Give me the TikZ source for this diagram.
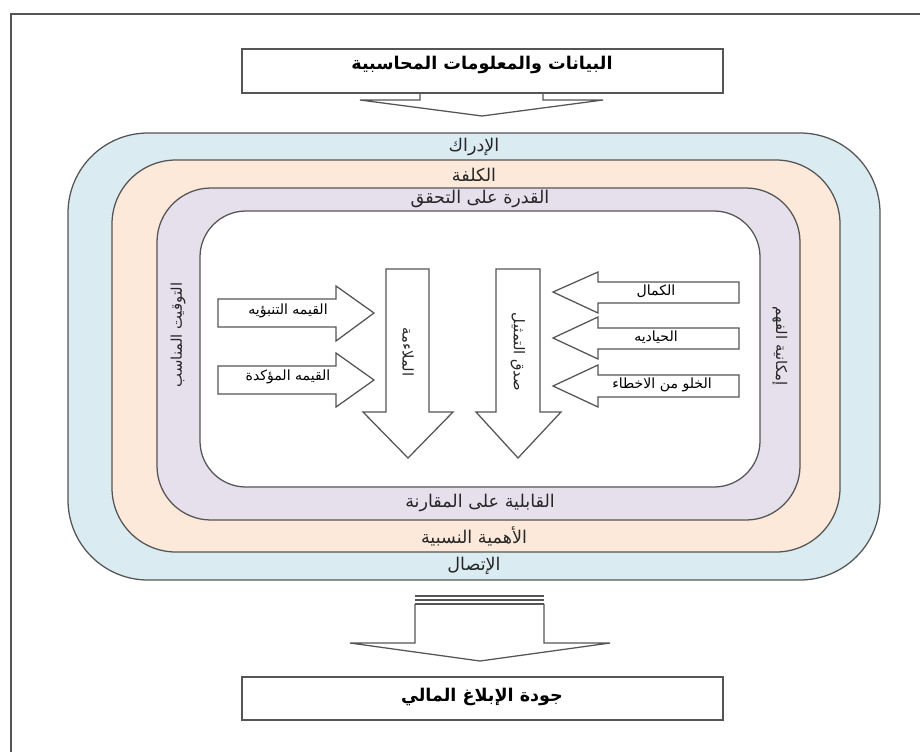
\documentclass[tikz,border=0pt]{standalone}
\usepackage{fontspec}
\usepackage{xcolor}
\newfontfamily\arabicfont[Script=Arabic]{DejaVu Sans}
\TeXXeTstate=1
\newcommand{\artext}[1]{{\arabicfont\beginR #1\endR}}
\definecolor{ringblue}{RGB}{218,236,242}
\definecolor{ringorange}{RGB}{253,233,217}
\definecolor{ringpurple}{RGB}{229,224,236}
\definecolor{edge}{RGB}{85,85,85}
\tikzset{
  ring/.style={draw=edge, line width=0.9pt},
  blockarrow/.style={draw=edge, fill=white, line width=0.9pt, line join=miter},
  titlebox/.style={draw=edge, fill=white, line width=0.9pt, inner sep=0pt},
  titletext/.style={font=\fontsize{12.5}{14}\selectfont\bfseries, inner sep=1pt},
  ringlabel/.style={font=\fontsize{12.5}{14}\selectfont, text=black!85, inner sep=1pt},
  sidelabel/.style={font=\fontsize{10.5}{12}\selectfont, text=black!85, inner sep=1pt},
  arrowlabel/.style={font=\fontsize{10}{12}\selectfont, inner sep=1pt},
}

\begin{document}
\begin{tikzpicture}[x=0.025cm, y=-0.025cm]
  \useasboundingbox (0,0) rectangle (920,752);
  % page frame, runs off the right and bottom edge
  \draw[edge, line width=0.8pt] (920,14) -- (11,14) -- (11,752);
  % source box with its arrow
  \draw[blockarrow] (420,80) -- (420,100) -- (360,100) -- (482,116) -- (603,100) -- (543,100) -- (543,80);
  \node[titlebox, minimum width=12.025cm, minimum height=1.1cm] (srcbox) at (482.5,71) {};
  \node[titletext] (srctext) at (482,65) {\artext{البيانات والمعلومات المحاسبية}};
  % nested rings
  \draw[ring, fill=ringblue, rounded corners=2cm] (68,133) rectangle (880,580);
  \draw[ring, fill=ringorange, rounded corners=1.6cm] (112,160) rectangle (840,552);
  \draw[ring, fill=ringpurple, rounded corners=1.35cm] (157,188) rectangle (800,520);
  \draw[ring, fill=white, rounded corners=1.15cm] (200,211) rectangle (760,487);
  \node[ringlabel] (percept) at (474,147) {\artext{الإدراك}};
  \node[ringlabel] (cost) at (474,175) {\artext{الكلفة}};
  \node[ringlabel] (verify) at (480,199) {\artext{القدرة على التحقق}};
  \node[ringlabel] (compare) at (480,503) {\artext{القابلية على المقارنة}};
  \node[ringlabel] (material) at (474,536) {\artext{الأهمية النسبية}};
  \node[ringlabel] (commun) at (474,566) {\artext{الإتصال}};
  \node[sidelabel, rotate=90] (timely) at (178,335) {\artext{التوقيت المناسب}};
  \node[sidelabel, rotate=-90] (understand) at (780,346) {\artext{إمكانية الفهم}};
  % relevance and its two inputs
  \draw[blockarrow] (218,299) -- (336,299) -- (336,286) -- (374,313) -- (336,341) -- (336,327) -- (218,327) -- cycle;
  \draw[blockarrow] (218,366) -- (336,366) -- (336,353) -- (374,380) -- (336,407) -- (336,394) -- (218,394) -- cycle;
  \node[arrowlabel] (predict) at (288,311) {\artext{القيمه التنبؤيه}};
  \node[arrowlabel] (confirm) at (288,377) {\artext{القيمه المؤكدة}};
  \draw[blockarrow] (386,269) -- (429,269) -- (429,412) -- (453,412) -- (408,458) -- (363,412) -- (386,412) -- cycle;
  \node[sidelabel, rotate=-90] (relevance) at (408,352) {\artext{الملاءمة}};
  % faithful representation and its three inputs
  \draw[blockarrow] (496,269) -- (540,269) -- (540,412) -- (561,412) -- (518,458) -- (476,412) -- (496,412) -- cycle;
  \node[sidelabel, rotate=-90] (faithful) at (518,352) {\artext{صدق التمثيل}};
  \draw[blockarrow] (739,282) -- (598,282) -- (598,272) -- (553,292) -- (598,313) -- (598,303) -- (739,303) -- cycle;
  \draw[blockarrow] (739,328) -- (598,328) -- (598,317) -- (553,338) -- (598,359) -- (598,349) -- (739,349) -- cycle;
  \draw[blockarrow] (739,375) -- (598,375) -- (598,365) -- (553,386) -- (598,407) -- (598,397) -- (739,397) -- cycle;
  \node[arrowlabel] (complete) at (656,291) {\artext{الكمال}};
  \node[arrowlabel] (neutral) at (656,337) {\artext{الحياديه}};
  \node[arrowlabel] (errfree) at (662,385) {\artext{الخلو من الاخطاء}};
  % outcome arrow and box
  \draw[blockarrow] (415,604) -- (415,643) -- (350,643) -- (480,661) -- (610,643) -- (544,643) -- (544,604);
  \draw[edge, line width=0.9pt] (415,596) -- (544,596) (415,600) -- (544,600) (415,604) -- (544,604);
  \node[titlebox, minimum width=12.025cm, minimum height=1.075cm] (outbox) at (482.5,698.5) {};
  \node[titletext] (outtext) at (482,697) {\artext{جودة الإبلاغ المالي}};
\end{tikzpicture}
\end{document}
